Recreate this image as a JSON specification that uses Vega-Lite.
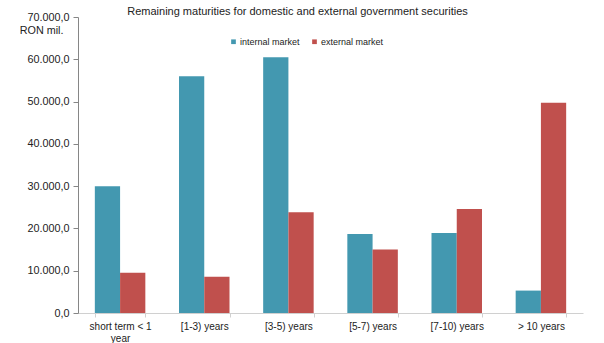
{
  "$schema": "https://vega.github.io/schema/vega-lite/v6.json",
  "width": 505,
  "height": 296,
  "autosize": {"type": "none"},
  "padding": {"left": 78, "top": 17, "right": 21, "bottom": 30},
  "title": {
    "text": "Remaining maturities for domestic and external government securities",
    "anchor": "middle",
    "dx": -33,
    "dy": 7,
    "offset": 1,
    "fontSize": 11,
    "fontWeight": "normal",
    "font": "Liberation Sans",
    "color": "#222222"
  },
  "config": {
    "locale": {
      "number": {"decimal": ",", "thousands": ".", "grouping": [3], "currency": ["", ""]}
    },
    "view": {"stroke": null},
    "font": "Liberation Sans"
  },
  "data": {
    "values": [
      {"term": "short term < 1 year", "market": "internal market", "value": 30000},
      {"term": "short term < 1 year", "market": "external market", "value": 9500},
      {"term": "[1-3) years", "market": "internal market", "value": 56000},
      {"term": "[1-3) years", "market": "external market", "value": 8600},
      {"term": "[3-5) years", "market": "internal market", "value": 60500},
      {"term": "[3-5) years", "market": "external market", "value": 23800},
      {"term": "[5-7) years", "market": "internal market", "value": 18700},
      {"term": "[5-7) years", "market": "external market", "value": 15000},
      {"term": "[7-10) years", "market": "internal market", "value": 18900},
      {"term": "[7-10) years", "market": "external market", "value": 24600},
      {"term": "> 10 years", "market": "internal market", "value": 5300},
      {"term": "> 10 years", "market": "external market", "value": 49700}
    ]
  },
  "mark": {"type": "bar"},
  "encoding": {
    "x": {
      "field": "term",
      "type": "nominal",
      "sort": null,
      "scale": {"paddingInner": 0.4, "paddingOuter": 0.2},
      "axis": {
        "title": null,
        "labelAngle": 0,
        "tickBand": "extent",
        "domainColor": "#d0d0d0",
        "tickColor": "#d0d0d0",
        "tickSize": 4,
        "labelPadding": 4,
        "labelFontSize": 10,
        "labelColor": "#222222",
        "labelLineHeight": 12,
        "labelExpr": "datum.value == 'short term < 1 year' ? ['short term < 1', 'year'] : datum.value"
      }
    },
    "xOffset": {"field": "market", "type": "nominal", "sort": ["internal market", "external market"]},
    "y": {
      "field": "value",
      "type": "quantitative",
      "scale": {"domain": [0, 70000]},
      "axis": {
        "values": [0, 10000, 20000, 30000, 40000, 50000, 60000, 70000],
        "format": ",.1f",
        "grid": false,
        "domainColor": "#868686",
        "tickColor": "#868686",
        "tickSize": 5,
        "labelPadding": 4,
        "labelFontSize": 10.8,
        "labelColor": "#222222",
        "title": "RON mil.",
        "titleAngle": 0,
        "titleAlign": "right",
        "titleBaseline": "middle",
        "titleX": -15,
        "titleY": 13,
        "titleFontSize": 10.8,
        "titleFontWeight": "normal",
        "titleColor": "#222222"
      }
    },
    "color": {
      "field": "market",
      "type": "nominal",
      "sort": ["internal market", "external market"],
      "scale": {"domain": ["internal market", "external market"], "range": ["#4398B0", "#C0504D"]},
      "legend": {
        "title": null,
        "orient": "none",
        "direction": "horizontal",
        "legendX": 151,
        "legendY": 20,
        "symbolType": "square",
        "symbolSize": 22,
        "symbolStrokeWidth": 0,
        "labelOffset": 2,
        "columnPadding": 10,
        "labelFontSize": 9,
        "labelColor": "#222222"
      }
    }
  }
}
